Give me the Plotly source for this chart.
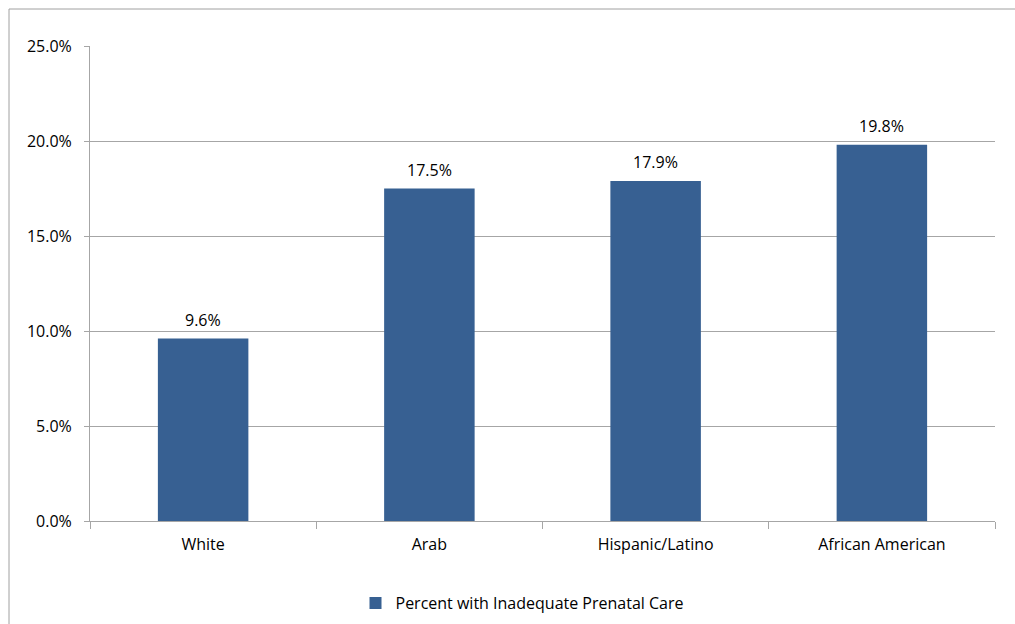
import plotly.graph_objects as go

categories = ["White", "Arab", "Hispanic/Latino", "African American"]
values = [0.096, 0.175, 0.179, 0.198]
labels = ["9.6%", "17.5%", "17.9%", "19.8%"]
series_name = "Percent with Inadequate Prenatal Care"

W, H = 1015, 624
L, R, T, B = 90, 20, 46, 103
pw = W - L - R
ph = H - T - B

FS = 16
font = dict(family="'Open Sans', Lato, sans-serif", size=FS, color="#000000")
grid = "#A6A6A6"

fig = go.Figure()
fig.add_trace(go.Bar(
    x=categories, y=values, name=series_name,
    marker=dict(color="#376092", line=dict(width=0)),
    width=0.4,
    showlegend=True,
))

for c, v, t in zip(categories, values, labels):
    fig.add_annotation(x=c, y=v, text=t, showarrow=False, yanchor="bottom",
                       yshift=6, font=dict(size=FS, color="#000000"))

fig.update_layout(
    width=W, height=H,
    margin=dict(l=L, r=R, t=T, b=B, autoexpand=False),
    paper_bgcolor="white", plot_bgcolor="white",
    font=font,
    xaxis=dict(
        showgrid=False, showline=True, linecolor=grid, linewidth=1,
        ticks="outside", ticklen=7, tickcolor=grid, tickson="boundaries",
        tickfont=dict(size=FS), range=[-0.5, 3.5], automargin=False,
        ticklabelstandoff=9,
    ),
    yaxis=dict(
        range=[0, 0.25], dtick=0.05, tickformat=".1%",
        showgrid=True, gridcolor=grid, gridwidth=1,
        showline=True, linecolor=grid, linewidth=1,
        ticks="outside", ticklen=5, tickcolor=grid,
        zeroline=False, tickfont=dict(size=FS), automargin=False,
        ticklabelstandoff=9,
    ),
    legend=dict(orientation="h", x=0.5 - 20 / pw, xanchor="center",
                yref="container", y=(H - 603) / H, yanchor="middle",
                font=dict(size=FS), itemwidth=30),
    shapes=[dict(
        type="rect", xref="paper", yref="paper",
        x0=(9 - L) / pw, x1=(W + 5 - L) / pw,
        y0=-(H + 5 - T - ph) / ph, y1=(T + ph - 9) / ph,
        line=dict(color="#A0A0A0", width=1), fillcolor="rgba(0,0,0,0)", layer="below",
    )],
)

fig.write_html("out.html")
